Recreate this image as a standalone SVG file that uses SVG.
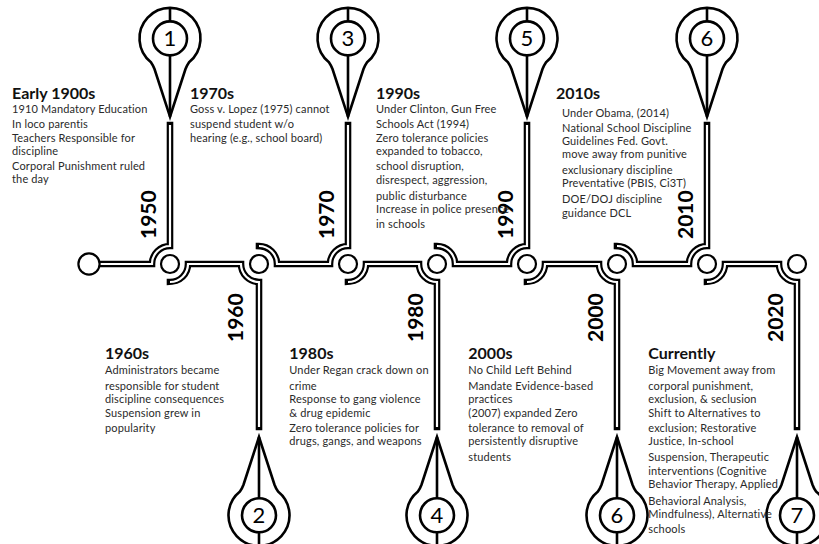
<svg xmlns="http://www.w3.org/2000/svg" xmlns:xlink="http://www.w3.org/1999/xlink" width="819" height="544" viewBox="0 0 819 544">
<style>
  .ro{fill:none;stroke:#000;stroke-width:6.6;stroke-linecap:square}
  .ri{fill:none;stroke:#fff;stroke-width:2.2;stroke-linecap:butt}
  .node{fill:#fff;stroke:#000;stroke-width:2.2}
  .pin{fill:none;stroke:#000;stroke-width:2.6;stroke-linejoin:miter}
  .num{font-family:Lato,"Liberation Sans",sans-serif;font-size:22px;fill:#000;text-anchor:middle}
  .yr{font-family:Lato,"Liberation Sans",sans-serif;font-size:21px;font-weight:bold;fill:#000}
  .hd{font-family:Lato,"Liberation Sans",sans-serif;font-size:16px;font-weight:bold;fill:#111}
  .bd{font-family:Lato,"Liberation Sans",sans-serif;font-size:11px;letter-spacing:0.15px;fill:#2a2a2a}
</style>
<defs>
  <g id="pin">
    <path d="M0 116.7 L-15.5 69 Q-16.8 65.5 -19.07 62.2 A30.5 30.5 0 1 1 19.07 62.2 Q16.8 65.5 15.5 69 Z"/>
    <circle cx="0" cy="38.4" r="17"/>
    <path d="M0 7.9 V21.4 M0 55.4 V116.7"/>
  </g>
  <path id="s0" d="M96 264 H152 A18 18 0 0 1 170 246 V125"/>
  <path id="s1" d="M170 282 A18 18 0 0 0 188 264 H241 A18 18 0 0 0 259 282 V427"/>
  <path id="s2" d="M259 246 A18 18 0 0 1 277 264 H330 A18 18 0 0 1 348 246 V125"/>
  <path id="s3" d="M348 282 A18 18 0 0 0 366 264 H419 A18 18 0 0 0 437 282 V427"/>
  <path id="s4" d="M437 246 A18 18 0 0 1 455 264 H509 A18 18 0 0 1 527 246 V125"/>
  <path id="s5" d="M527 282 A18 18 0 0 0 545 264 H599 A18 18 0 0 0 617 282 V427"/>
  <path id="s6" d="M617 246 A18 18 0 0 1 635 264 H689 A18 18 0 0 1 707 246 V125"/>
  <path id="s7" d="M707 282 A18 18 0 0 0 725 264 H779 A18 18 0 0 0 797 282 V427"/>
</defs>

<g id="connectors">
  <use href="#s0" class="ro"/><use href="#s0" class="ri"/>
  <use href="#s1" class="ro"/><use href="#s1" class="ri"/>
  <use href="#s2" class="ro"/><use href="#s2" class="ri"/>
  <use href="#s3" class="ro"/><use href="#s3" class="ri"/>
  <use href="#s4" class="ro"/><use href="#s4" class="ri"/>
  <use href="#s5" class="ro"/><use href="#s5" class="ri"/>
  <use href="#s6" class="ro"/><use href="#s6" class="ri"/>
  <use href="#s7" class="ro"/><use href="#s7" class="ri"/>
</g>

<g id="start"><circle class="node" cx="89" cy="264" r="10.6"/></g>

<g id="n1950"><circle class="node" cx="170" cy="264" r="9"/><text class="yr" transform="translate(156,239) rotate(-90)">1950</text></g>
<g id="n1960"><circle class="node" cx="259" cy="264" r="9"/><text class="yr" transform="translate(243,342) rotate(-90)">1960</text></g>
<g id="n1970"><circle class="node" cx="348" cy="264" r="9"/><text class="yr" transform="translate(334,239) rotate(-90)">1970</text></g>
<g id="n1980"><circle class="node" cx="437" cy="264" r="9"/><text class="yr" transform="translate(423,342) rotate(-90)">1980</text></g>
<g id="n1990"><circle class="node" cx="527" cy="264" r="9"/><text class="yr" transform="translate(513,239) rotate(-90)">1990</text></g>
<g id="n2000"><circle class="node" cx="617" cy="264" r="9"/><text class="yr" transform="translate(603,342) rotate(-90)">2000</text></g>
<g id="n2010"><circle class="node" cx="707" cy="264" r="9"/><text class="yr" transform="translate(693,239) rotate(-90)">2010</text></g>
<g id="n2020"><circle class="node" cx="797" cy="264" r="9"/><text class="yr" transform="translate(783,342) rotate(-90)">2020</text></g>

<g id="pin1"><use href="#pin" class="pin" transform="translate(170,0)"/><text class="num" x="170" y="46.3">1</text></g>
<g id="pin3"><use href="#pin" class="pin" transform="translate(348,0)"/><text class="num" x="348" y="46.3">3</text></g>
<g id="pin5"><use href="#pin" class="pin" transform="translate(527,0)"/><text class="num" x="527" y="46.3">5</text></g>
<g id="pin6top"><use href="#pin" class="pin" transform="translate(707,0)"/><text class="num" x="707" y="46.3">6</text></g>
<g id="pin2"><use href="#pin" class="pin" transform="translate(259,553.7) scale(1,-1)"/><text class="num" x="259" y="523.3">2</text></g>
<g id="pin4"><use href="#pin" class="pin" transform="translate(437,553.7) scale(1,-1)"/><text class="num" x="437" y="523.3">4</text></g>
<g id="pin6bot"><use href="#pin" class="pin" transform="translate(617,553.7) scale(1,-1)"/><text class="num" x="617" y="523.3">6</text></g>
<g id="pin7"><use href="#pin" class="pin" transform="translate(797,553.7) scale(1,-1)"/><text class="num" x="797" y="523.3">7</text></g>

<g id="t1900">
  <text class="hd" x="12" y="98.5">Early 1900s</text>
  <text class="bd"><tspan x="12" y="112.7">1910 Mandatory Education</tspan><tspan x="12" y="128.3">In loco parentis</tspan><tspan x="12" y="141.7">Teachers Responsible for</tspan><tspan x="12" y="155">discipline</tspan><tspan x="12" y="170">Corporal Punishment ruled</tspan><tspan x="12" y="183.3">the day</tspan></text>
</g>
<g id="t1970">
  <text class="hd" x="190" y="98.5">1970s</text>
  <text class="bd"><tspan x="190" y="112.7">Goss v. Lopez (1975) cannot</tspan><tspan x="190" y="128.3">suspend student w/o</tspan><tspan x="190" y="141.7">hearing (e.g., school board)</tspan></text>
</g>
<g id="t1990">
  <text class="hd" x="376" y="99">1990s</text>
  <text class="bd"><tspan x="376" y="112.7">Under Clinton, Gun Free</tspan><tspan x="376" y="128.3">Schools Act (1994)</tspan><tspan x="376" y="141.7">Zero tolerance policies</tspan><tspan x="376" y="155">expanded to tobacco,</tspan><tspan x="376" y="170">school disruption,</tspan><tspan x="376" y="184">disrespect, aggression,</tspan><tspan x="376" y="200">public disturbance</tspan><tspan x="376" y="213.3">Increase in police presence</tspan><tspan x="376" y="227.7">in schools</tspan></text>
</g>
<g id="t2010">
  <text class="hd" x="556" y="98.5">2010s</text>
  <text class="bd"><tspan x="562" y="116.7">Under Obama, (2014)</tspan><tspan x="562" y="131.7">National School Discipline</tspan><tspan x="562" y="145">Guidelines Fed. Govt.</tspan><tspan x="562" y="158.3">move away from punitive</tspan><tspan x="562" y="174">exclusionary discipline</tspan><tspan x="562" y="187.3">Preventative (PBIS, Ci3T)</tspan><tspan x="562" y="203.3">DOE/DOJ discipline</tspan><tspan x="562" y="216.7">guidance DCL</tspan></text>
</g>
<g id="t1960">
  <text class="hd" x="105" y="359.3">1960s</text>
  <text class="bd"><tspan x="105" y="374.3">Administrators became</tspan><tspan x="105" y="390">responsible for student</tspan><tspan x="105" y="403.3">discipline consequences</tspan><tspan x="105" y="416.7">Suspension grew in</tspan><tspan x="105" y="432.3">popularity</tspan></text>
</g>
<g id="t1980">
  <text class="hd" x="289.3" y="359.3">1980s</text>
  <text class="bd"><tspan x="289.3" y="374.3">Under Regan crack down on</tspan><tspan x="289.3" y="390">crime</tspan><tspan x="289.3" y="403.3">Response to gang violence</tspan><tspan x="289.3" y="416.7">&amp; drug epidemic</tspan><tspan x="289.3" y="432.3">Zero tolerance policies for</tspan><tspan x="289.3" y="445">drugs, gangs, and weapons</tspan></text>
</g>
<g id="t2000">
  <text class="hd" x="468.3" y="359.3">2000s</text>
  <text class="bd"><tspan x="468.3" y="374.3">No Child Left Behind</tspan><tspan x="468.3" y="390">Mandate Evidence-based</tspan><tspan x="468.3" y="403.3">practices</tspan><tspan x="468.3" y="416.7">(2007) expanded Zero</tspan><tspan x="468.3" y="432.3">tolerance to removal of</tspan><tspan x="468.3" y="445">persistently disruptive</tspan><tspan x="468.3" y="461">students</tspan></text>
</g>
<g id="tnow">
  <text class="hd" x="648.3" y="359.3">Currently</text>
  <text class="bd"><tspan x="648.3" y="374.3">Big Movement away from</tspan><tspan x="648.3" y="390">corporal punishment,</tspan><tspan x="648.3" y="403.3">exclusion, &amp; seclusion</tspan><tspan x="648.3" y="416.7">Shift to Alternatives to</tspan><tspan x="648.3" y="432.3">exclusion; Restorative</tspan><tspan x="648.3" y="445">Justice, In-school</tspan><tspan x="648.3" y="461">Suspension, Therapeutic</tspan><tspan x="648.3" y="475">interventions (Cognitive</tspan><tspan x="648.3" y="488.3">Behavior Therapy, Applied</tspan><tspan x="648.3" y="505">Behavioral Analysis,</tspan><tspan x="648.3" y="518.3">Mindfulness), Alternative</tspan><tspan x="648.3" y="533.3">schools</tspan></text>
</g>
</svg>
